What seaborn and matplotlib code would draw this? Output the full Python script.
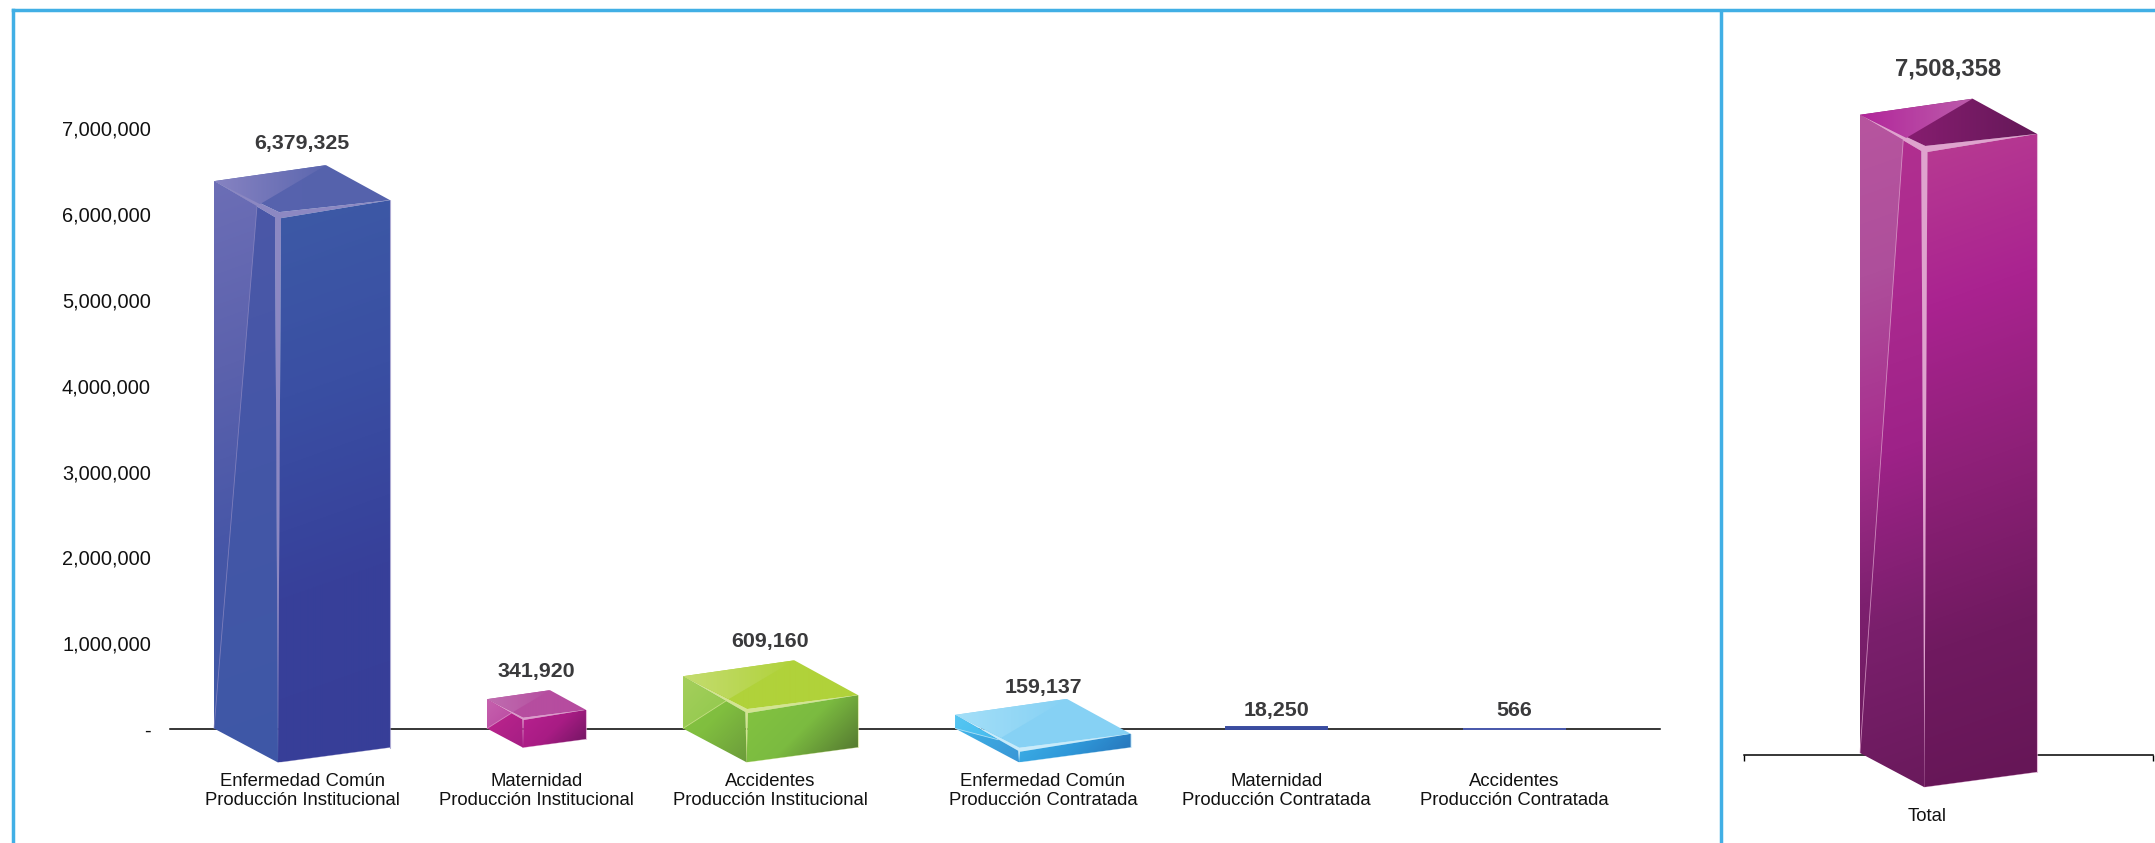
import numpy as np
import pandas as pd
import matplotlib
matplotlib.use('Agg')
import matplotlib.pyplot as plt
import seaborn as sns
from matplotlib.colors import LinearSegmentedColormap
from matplotlib.patches import Polygon

sns.set_theme(style='white')
plt.rcParams['font.family'] = ['Liberation Sans', 'DejaVu Sans']

# datos
categorias = ['Enfermedad Común\nProducción Institucional',
              'Maternidad\nProducción Institucional',
              'Accidentes\nProducción Institucional',
              'Enfermedad Común\nProducción Contratada',
              'Maternidad\nProducción Contratada',
              'Accidentes\nProducción Contratada']
valores = [6379325, 341920, 609160, 159137, 18250, 566]
total_nombre = 'Total'
total_valor = 7508358
y_ticks = [0, 1000000, 2000000, 3000000, 4000000, 5000000, 6000000, 7000000]
y_labels = ['-'] + ['{:,}'.format(v) for v in y_ticks[1:]]

# layout en pixeles de la imagen
W, H = 2155, 843
centros = [302, 536.5, 770.5, 1043, 1276.5, 1514.5]
anchos = [176, 99, 175, 175.5, 100.5, 103]
gap_label = [38, 28, 35, 28, 17, 18]
centro_total, ancho_total, gap_total = 1948.5, 177, 48
azul_borde = '#41AFE5'
texto_valor = '#3a3a3c'

# colores de cada caja
alto = (0.35, 1)
azul = dict(right=['#3D5AA6', '#3A4FA3', '#37409A', '#373E98'], inner=['#4C58A8', '#4456A7', '#3E58A6'],
            wedge=['#6C6EB6', '#5C62AD', '#4656A7', '#3F59A6'], top=['#5763AE', '#5562AC'],
            top_w=['#8783C2', '#5C67AF'], hi='#8C88C2', dirn=alto)
magenta = dict(right=['#B8218F', '#A81C84', '#6E1560'], inner=['#C2268F', '#A51E84'],
               wedge=['#C662AE', '#BB4AA2'], top=['#B64FA0', '#B64C9F'],
               top_w=['#C06DB0', '#B54FA0'], hi='#DC9CCB', dirn=(1, 1))
verde = dict(right=['#84C441', '#7BBB40', '#4F6F2E'], inner=['#86C63F', '#80BE3F', '#6C9C3B'],
             wedge=['#A6CF5C', '#8FC84C'], top=['#B0D23A', '#B0D23A'],
             top_w=['#C4DC70', '#B0D23A'], hi='#D3E492', dirn=(1, 1))
celeste = dict(right=['#3DB1E8', '#2F97D8', '#2670B6'], inner=['#45BAEE', '#3CA6DF', '#3A96D6'],
               wedge=['#55C6F2', '#45BBEE'], top=['#86D1F4', '#86D1F4'],
               top_w=['#A4DFF8', '#86D1F4'], hi='#C8EBFA', dirn=(1, 1))
total_est = dict(right=['#B83C92', '#AA2390', '#8E2078', '#701A60', '#651656'],
                 inner=['#B2318F', '#AC2A90', '#9E2288', '#7A1F6C', '#6A1A5C'],
                 wedge=['#B7559F', '#AE4F9B', '#A8308F', '#7D206F', '#6A1A5C'],
                 top=['#931F78', '#641858'], top_w=['#B2269A', '#BC5CAB'], hi='#DFA3CE', dirn=alto)
estilos = [azul, magenta, verde, celeste]
colores_finos = ['#3A4CA0', '#4C5BB0']

fig = plt.figure(figsize=(W / 100, H / 100), dpi=100)


def rect(x0, x1, y_top, y_bot):
    return [x0 / W, 1 - y_bot / H, (x1 - x0) / W, (y_bot - y_top) / H]


ax = fig.add_axes(rect(170, 1660, 729 - 7500000 * 85.8e-6, 729))
ax2 = fig.add_axes(rect(1744, 2153, 75, 755))
over = fig.add_axes([0, 0, 1, 1], zorder=10)
over.set_xlim(0, W)
over.set_ylim(H, 0)
over.axis('off')
over.patch.set_alpha(0)
over.set_autoscale_on(False)

df = pd.DataFrame({'x': centros, 'valor': valores})
sns.barplot(data=df, x='x', y='valor', native_scale=True, saturation=1, ax=ax)
df2 = pd.DataFrame({'x': [centro_total], 'valor': [total_valor]})
sns.barplot(data=df2, x='x', y='valor', native_scale=True, saturation=1, ax=ax2)

ax.set_xlim(170, 1660)
ax.set_ylim(0, 7500000)
ax2.set_xlim(1744, 2153)
ax2.set_ylim(0, 8000000)
for a in (ax, ax2):
    a.set(xlabel='', ylabel='')
    a.patch.set_alpha(0)
    sns.despine(ax=a, left=True)
    a.spines['bottom'].set_color('black')
    a.spines['bottom'].set_linewidth(1.1)

ax.set_yticks(y_ticks, labels=y_labels)
ax.tick_params(axis='y', length=0, pad=13.7, labelsize=14.4, labelcolor='#111111')
ax.set_xticks(centros, labels=categorias)
ax.tick_params(axis='x', length=0, pad=31.5, labelsize=13.3, labelcolor='#111111')
for t in ax.get_xticklabels():
    t.set_linespacing(1.2)

ax2.set_yticks([])
ax2.set_xticks([1744, 2153], labels=['', ''])
ax2.tick_params(axis='x', which='major', length=4, width=1, color='black', bottom=True)
ax2.set_xticks([centro_total - 21], labels=[total_nombre], minor=True)
ax2.tick_params(axis='x', which='minor', length=0, pad=38, labelsize=13.3, labelcolor='#111111')


def a_px(eje, x, y):
    d = eje.transData.transform((x, y))
    return d[0], H - d[1]


def shade(pts, stops, dirn=(1, 1), z=3):
    pts = np.array(pts, dtype=float)
    x0, y0 = pts.min(axis=0)
    x1, y1 = pts.max(axis=0)
    xs = np.linspace(x0, x1, max(int(x1 - x0) + 1, 2))
    ys = np.linspace(y0, y1, max(int(y1 - y0) + 1, 2))
    gx, gy = np.meshgrid(xs, ys)
    t = ((gx - x0) * dirn[0] + (gy - y0) * dirn[1]) / ((x1 - x0) * dirn[0] + (y1 - y0) * dirn[1])
    cmap = LinearSegmentedColormap.from_list('g', stops)
    im = over.imshow(t, cmap=cmap, vmin=0, vmax=1, extent=(x0, x1, y1, y0), origin='upper',
                     aspect='auto', zorder=z, interpolation='bilinear')
    clip = Polygon(pts, closed=True, transform=over.transData)
    im.set_clip_path(clip)


def caja(eje, patch, est, subir):
    w_data = patch.get_width()
    lx, top = a_px(eje, patch.get_x(), patch.get_height())
    rx, base = a_px(eje, patch.get_x() + w_data, 0)
    top -= subir
    base -= subir
    w = rx - lx
    s = w / 176
    k = max(0.3, min(1, (base - top) / 120))
    k2 = max(0.6, k)
    fx = lx + 64 * s
    bx = lx + 112 * s
    L_top, L_bot = (lx, top), (lx, base)
    R_top, R_bot = (rx, top + 19 * s), (rx, base + 19 * s)
    F_bot = (fx, base + 34 * s)
    F_l, F_r = (fx - 3 * k * s, top + 36 * s), (fx + 3 * k * s, top + 37 * s)
    F_in = (fx + 1 * k * s, top + 36 * s - 5 * k2 * s)
    back = (bx, top - 16 * s)
    P = (lx + 43 * s, top + 25 * s)
    Q = (lx + 46 * s, top + 23 * s)
    d = est['dirn']

    over.add_patch(Polygon([L_top, F_in, R_top, F_r, (fx + 0.7, F_bot[1]), (fx - 0.7, F_bot[1]), F_l],
                           closed=True, fc=est['hi'], ec='none', zorder=2))
    shade([L_top, F_l, F_bot, L_bot], est['inner'], dirn=d)
    shade([L_top, P, L_bot], est['wedge'], dirn=d, z=3.5)
    shade([F_r, R_top, R_bot, F_bot], est['right'], dirn=d)
    shade([L_top, back, R_top, F_in], est['top'], dirn=(1, 0))
    shade([L_top, back, Q], est['top_w'], dirn=(1, 0), z=3.5)
    over.plot([P[0], L_bot[0]], [P[1], L_bot[1]], color=est['hi'], lw=0.6, alpha=0.8, zorder=4)
    over.plot([R_top[0], R_bot[0]], [R_top[1], R_bot[1]], color=est['hi'], lw=0.8, alpha=0.7, zorder=4)
    over.plot([F_bot[0], R_bot[0]], [F_bot[1], R_bot[1]], color=est['hi'], lw=0.4, alpha=0.5, zorder=4)


barras = sorted(ax.patches, key=lambda p: p.get_x())
for i, p in enumerate(barras):
    p.set_x(centros[i] - anchos[i] / 2)
    p.set_width(anchos[i])
    if i < len(estilos):
        p.set_visible(False)
        caja(ax, p, estilos[i], 0.5)
    else:
        c = colores_finos[i - len(estilos)]
        p.set_facecolor(c)
        p.set_edgecolor(c)
        p.set_linewidth(1.4)
        p.set_clip_on(False)
        p.set_zorder(5)
    ax.annotate('{:,}'.format(valores[i]), xy=(centros[i], valores[i]), xytext=(0, gap_label[i]),
                textcoords='offset pixels', ha='center', va='center', fontsize=15.4,
                fontweight='bold', color=texto_valor, annotation_clip=False)

p = ax2.patches[0]
p.set_x(centro_total - ancho_total / 2)
p.set_width(ancho_total)
p.set_visible(False)
caja(ax2, p, total_est, 2)
ax2.annotate('{:,}'.format(total_valor), xy=(centro_total, total_valor), xytext=(0, gap_total),
             textcoords='offset pixels', ha='center', va='center', fontsize=17.2,
             fontweight='bold', color=texto_valor, annotation_clip=False)

# marco azul
lw_borde = 2.5
over.plot([12.7, W], [10, 10], color=azul_borde, lw=lw_borde, solid_capstyle='projecting', zorder=1)
over.plot([12.7, 12.7], [10, H], color=azul_borde, lw=lw_borde, solid_capstyle='projecting', zorder=1)
over.plot([1721, 1721], [10, H], color=azul_borde, lw=lw_borde, solid_capstyle='butt', zorder=1)

fig.savefig('out.png', dpi=100)
